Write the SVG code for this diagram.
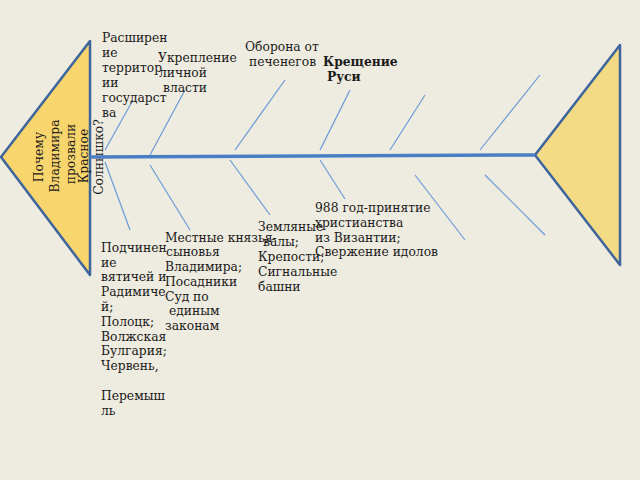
<svg xmlns="http://www.w3.org/2000/svg" width="640" height="480" viewBox="0 0 640 480">
<style>
.t{font-family:"DejaVu Serif","Liberation Serif",serif;font-size:12.3px;fill:#1a1a1a}
.b{font-weight:bold}
.bone{stroke:#6b9bd6;stroke-width:1.2;fill:none}
.spine{stroke:#4a7ec4;stroke-width:3.5;fill:none}
.fin{stroke:#3d659c;stroke-width:2.5;stroke-linejoin:round}
</style>
<rect width="640" height="480" fill="#eeebe0"/>
<g id="head">
<polygon class="fin" points="1,157 90,41 90,275" fill="#f9d56d"/>
<text class="t" transform="translate(43,157) rotate(-90)" text-anchor="middle">Почему</text>
<text class="t" transform="translate(59,156) rotate(-90)" text-anchor="middle">Владимира</text>
<text class="t" transform="translate(75,154) rotate(-90)" text-anchor="middle">прозвали</text>
<text class="t" transform="translate(88,156) rotate(-90)" text-anchor="middle">Красное</text>
<text class="t" transform="translate(103,157) rotate(-90)" text-anchor="middle">Солнышко?</text>
</g>
<g id="tail">
<polygon class="fin" points="535,155 620,45 620,265" fill="#f3da85"/>
</g>
<g id="connectors">
<line class="spine" x1="90" y1="157" x2="535" y2="155"/>
<line class="bone" x1="105" y1="150" x2="133" y2="100"/>
<line class="bone" x1="150" y1="155" x2="185" y2="90"/>
<line class="bone" x1="235" y1="150" x2="285" y2="80"/>
<line class="bone" x1="320" y1="150" x2="350" y2="90"/>
<line class="bone" x1="390" y1="150" x2="425" y2="95"/>
<line class="bone" x1="480" y1="150" x2="540" y2="75"/>
<line class="bone" x1="105" y1="162" x2="130" y2="230"/>
<line class="bone" x1="150" y1="165" x2="190" y2="230"/>
<line class="bone" x1="230" y1="160" x2="270" y2="215"/>
<line class="bone" x1="320" y1="160" x2="345" y2="199"/>
<line class="bone" x1="415" y1="175" x2="465" y2="240"/>
<line class="bone" x1="485" y1="175" x2="545" y2="235"/>
</g>
<g id="n1">
<text class="t" x="102" y="42">Расширен</text>
<text class="t" x="102" y="57">ие</text>
<text class="t" x="102" y="72">территор</text>
<text class="t" x="102" y="87">ии</text>
<text class="t" x="102" y="102">государст</text>
<text class="t" x="102" y="117">ва</text>
</g>
<g id="n2">
<text class="t" x="158" y="62">Укрепление</text>
<text class="t" x="159" y="77">личной</text>
<text class="t" x="163" y="92">власти</text>
</g>
<g id="n3">
<text class="t" x="245" y="51">Оборона от</text>
<text class="t" x="249" y="66">печенегов</text>
</g>
<g id="n4">
<text class="t b" x="323" y="66">Крещение</text>
<text class="t b" x="327" y="81">Руси</text>
</g>
<g id="n5">
<text class="t" x="101" y="252">Подчинен</text>
<text class="t" x="101" y="267">ие</text>
<text class="t" x="101" y="281">вятичей и</text>
<text class="t" x="101" y="296">Радимиче</text>
<text class="t" x="101" y="311">й;</text>
<text class="t" x="101" y="326">Полоцк;</text>
<text class="t" x="101" y="341">Волжская</text>
<text class="t" x="101" y="355">Булгария;</text>
<text class="t" x="101" y="370">Червень,</text>
<text class="t" x="101" y="400">Перемыш</text>
<text class="t" x="101" y="415">ль</text>
</g>
<g id="n6">
<text class="t" x="165" y="242">Местные князья-</text>
<text class="t" x="166" y="256">сыновья</text>
<text class="t" x="165" y="271">Владимира;</text>
<text class="t" x="165" y="286">Посадники</text>
<text class="t" x="165" y="301">Суд по</text>
<text class="t" x="169" y="315">единым</text>
<text class="t" x="165" y="330">законам</text>
</g>
<g id="n7">
<text class="t" x="258" y="231">Земляные</text>
<text class="t" x="263" y="246">валы;</text>
<text class="t" x="258" y="261">Крепости;</text>
<text class="t" x="258" y="276">Сигнальные</text>
<text class="t" x="258" y="291">башни</text>
</g>
<g id="n8">
<text class="t" x="315" y="212">988 год-принятие</text>
<text class="t" x="315" y="227">христианства</text>
<text class="t" x="315" y="242">из Византии;</text>
<text class="t" x="315" y="256">Свержение идолов</text>
</g>
</svg>
